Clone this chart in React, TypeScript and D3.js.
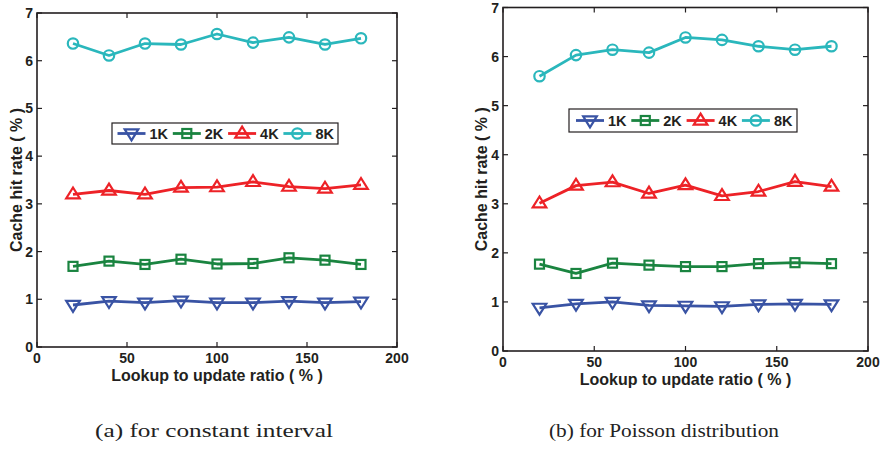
import React from "react";
import * as d3 from "d3";

const xValues = [20, 40, 60, 80, 100, 120, 140, 160, 180];
const seriesNames = ["1K", "2K", "4K", "8K"];
const seriesColors = ["#3953a4", "#1a8440", "#ed2227", "#2ab7bc"];
const seriesMarkers = ["tri-down", "square", "tri-up", "circle"];

const constK1 = [0.88, 0.96, 0.93, 0.97, 0.93, 0.93, 0.96, 0.93, 0.95];
const constK2 = [1.69, 1.8, 1.73, 1.84, 1.74, 1.75, 1.87, 1.82, 1.73];
const constK4 = [3.2, 3.28, 3.2, 3.34, 3.35, 3.46, 3.36, 3.32, 3.4];
const constK8 = [6.36, 6.11, 6.36, 6.34, 6.56, 6.38, 6.49, 6.34, 6.47];

const poisK1 = [0.88, 0.96, 1.0, 0.93, 0.92, 0.91, 0.95, 0.96, 0.95];
const poisK2 = [1.77, 1.58, 1.79, 1.75, 1.72, 1.72, 1.78, 1.8, 1.78];
const poisK4 = [3.01, 3.37, 3.44, 3.21, 3.38, 3.16, 3.25, 3.45, 3.35];
const poisK8 = [5.6, 6.03, 6.14, 6.08, 6.39, 6.34, 6.21, 6.14, 6.21];

const xTicks = [0, 50, 100, 150, 200];
const yTicks = [0, 1, 2, 3, 4, 5, 6, 7];
const xTitle = "Lookup to update ratio ( % )";
const yTitle = "Cache hit rate ( % )";
const captions = ["(a) for constant interval", "(b) for Poisson distribution"];

const AXIS = "#231f20";
const FONT = "Liberation Sans, Arial, sans-serif";

function Marker({ type, x, y, color }: { type: string; x: number; y: number; color: string }) {
  const sw = 2.2;
  if (type === "circle") return <circle cx={x} cy={y} r={5.2} fill="none" stroke={color} strokeWidth={sw} />;
  if (type === "square") return <rect x={x - 4.5} y={y - 4.5} width={9} height={9} fill="none" stroke={color} strokeWidth={sw} />;
  const s = 6.8;
  if (type === "tri-up")
    return <path d={`M${x},${y - s}L${x + s},${y + s * 0.6}L${x - s},${y + s * 0.6}Z`} fill="none" stroke={color} strokeWidth={sw} />;
  return <path d={`M${x},${y + s}L${x + s},${y - s * 0.6}L${x - s},${y - s * 0.6}Z`} fill="none" stroke={color} strokeWidth={sw} />;
}

type PanelProps = {
  data: number[][];
  left: number; right: number; top: number; bottom: number;
  yLabelX: number; xLabelY: number;
  legend: { x: number; y: number; w: number; h: number; pad: number; step: number };
  caption: string; captionX: number; captionW: number;
};

function dataLines(data: number[][], line: any, x: any, y: any) {
  return data.map((s, si) => (
    <g key={"s" + si}>
      <path d={line(s) || ""} fill="none" stroke={seriesColors[si]} strokeWidth={2.8} strokeLinejoin="round" />
      {s.map((v, i) => (
        <Marker key={i} type={seriesMarkers[si]} x={x(xValues[i])} y={y(v)} color={seriesColors[si]} />
      ))}
    </g>
  ));
}

function Panel(p: PanelProps) {
  const x = d3.scaleLinear().domain([0, 200]).range([p.left, p.right]);
  const y = d3.scaleLinear().domain([0, 7]).range([p.bottom, p.top]);
  const line = d3.line<number>().x((_, i) => x(xValues[i])).y((d) => y(d));
  const tl = 5;
  return (
    <g>
      {dataLines(p.data, line, x, y)}
      <rect x={p.left} y={p.top} width={p.right - p.left} height={p.bottom - p.top} fill="none" stroke={AXIS} strokeWidth={1.6} />
      {xTicks.map((t) => (
        <g key={"xt" + t}>
          <line x1={x(t)} x2={x(t)} y1={p.bottom} y2={p.bottom - tl} stroke={AXIS} strokeWidth={1.2} />
          <line x1={x(t)} x2={x(t)} y1={p.top} y2={p.top + tl} stroke={AXIS} strokeWidth={1.2} />
          <text x={x(t)} y={p.bottom + 16} textAnchor="middle" fontFamily={FONT} fontWeight="bold" fontSize={14} fill={AXIS}>{t}</text>
        </g>
      ))}
      {yTicks.map((t) => (
        <g key={"yt" + t}>
          <line x1={p.left} x2={p.left + tl} y1={y(t)} y2={y(t)} stroke={AXIS} strokeWidth={1.2} />
          <line x1={p.right} x2={p.right - tl} y1={y(t)} y2={y(t)} stroke={AXIS} strokeWidth={1.2} />
          <text x={p.left - 4} y={y(t) + 5} textAnchor="end" fontFamily={FONT} fontWeight="bold" fontSize={14} fill={AXIS}>{t}</text>
        </g>
      ))}
      <text x={(p.left + p.right) / 2} y={p.xLabelY} textAnchor="middle" fontFamily={FONT} fontWeight="bold" fontSize={16} fill={AXIS}>{xTitle}</text>
      <text transform={`translate(${p.yLabelX},${(p.top + p.bottom) / 2}) rotate(-90)`} textAnchor="middle" dy="0.35em" fontFamily={FONT} fontWeight="bold" fontSize={16} fill={AXIS}>{yTitle}</text>
      <rect x={p.legend.x} y={p.legend.y} width={p.legend.w} height={p.legend.h} fill="#fff" stroke={AXIS} strokeWidth={1.2} />
      {seriesNames.map((n, i) => {
        const lx = p.legend.x + p.legend.pad + i * p.legend.step;
        const cy = p.legend.y + p.legend.h / 2;
        return (
          <g key={n}>
            <line x1={lx} x2={lx + 28} y1={cy} y2={cy} stroke={seriesColors[i]} strokeWidth={2.8} />
            <Marker type={seriesMarkers[i]} x={lx + 14} y={cy} color={seriesColors[i]} />
            <text x={lx + 32} y={cy + 5.5} fontFamily={FONT} fontWeight="bold" fontSize={14.5} fill={AXIS}>{n}</text>
          </g>
        );
      })}
      <text x={p.captionX} y={437} textAnchor="middle" fontFamily="Liberation Serif, Times New Roman, serif" fontSize={18.5} textLength={p.captionW} lengthAdjust="spacingAndGlyphs" fill="#222">{p.caption}</text>
    </g>
  );
}

export default function App() {
  return (
    <svg width={881} height={452} style={{ position: "absolute", left: 0, top: 0, background: "#fff" }}>
      <rect width={881} height={452} fill="#fff" />
      <Panel
        data={[constK1, constK2, constK4, constK8]}
        left={37} right={397} top={13} bottom={347}
        yLabelX={16} xLabelY={381}
        legend={{ x: 112, y: 123, w: 226, h: 21, pad: 5.5, step: 55.3 }}
        caption={captions[0]} captionX={214} captionW={238}
      />
      <Panel
        data={[poisK1, poisK2, poisK4, poisK8]}
        left={503} right={868} top={7.5} bottom={351}
        yLabelX={481} xLabelY={385}
        legend={{ x: 569, y: 109, w: 228, h: 23, pad: 7, step: 55.3 }}
        caption={captions[1]} captionX={664} captionW={230}
      />
    </svg>
  );
}
